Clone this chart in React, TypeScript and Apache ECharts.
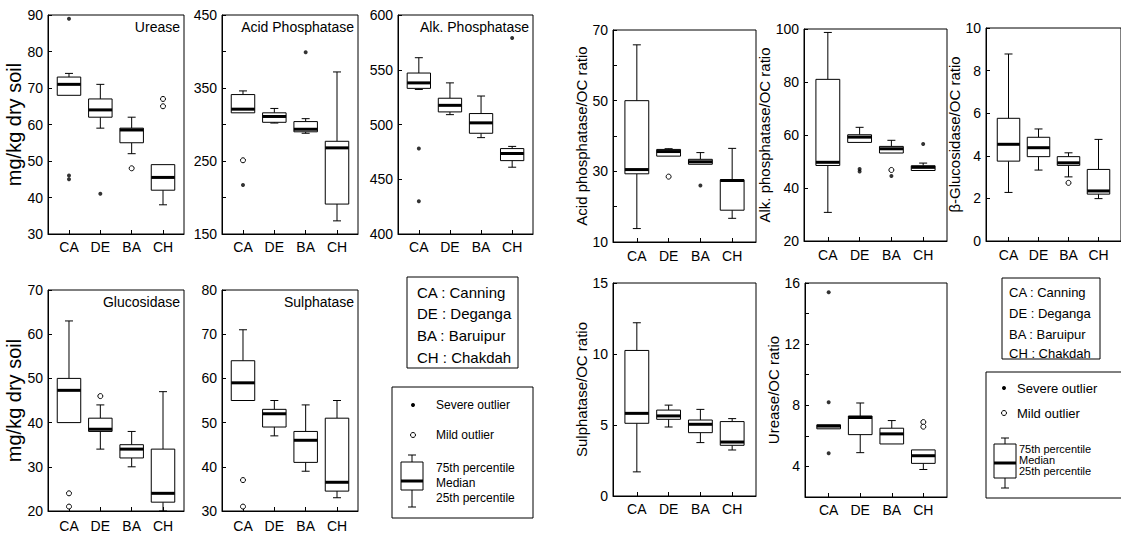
import React, { useEffect, useRef } from 'react';
import * as echarts from 'echarts';

const categories = ['CA', 'DE', 'BA', 'CH'];

// each row: [min whisker, 25th pct, median, 75th pct, max whisker] for CA, DE, BA, CH
const ureaseBox = [[68, 68, 71, 73, 74], [59, 62, 64, 67, 71], [52, 55, 58.5, 59, 62], [38, 42, 45.5, 49, 49]];
const ureaseSevere: [string, number][] = [['CA', 89], ['CA', 46], ['CA', 45], ['DE', 41]];
const ureaseMild: [string, number][] = [['BA', 48], ['CH', 67], ['CH', 65]];

const acidBox = [[316, 316, 321, 341, 346], [302, 303, 311, 316, 322], [288, 290, 293.5, 304, 308], [168, 191, 268, 277, 372]];
const acidSevere: [string, number][] = [['CA', 217], ['BA', 399]];
const acidMild: [string, number][] = [['CA', 251]];

const alkBox = [[532, 533, 538, 547, 561], [509, 511.5, 517.5, 524, 538], [488, 492, 501.5, 510, 526], [461, 467, 473.5, 478, 480]];
const alkSevere: [string, number][] = [['CA', 478], ['CA', 430], ['CH', 579]];
const alkMild: [string, number][] = [];

const glucoBox = [[40, 40, 47.3, 50, 63], [34, 38, 38.5, 41, 44], [30, 32, 34, 35, 38], [20, 22, 24, 34, 47]];
const glucoSevere: [string, number][] = [];
const glucoMild: [string, number][] = [['CA', 24], ['CA', 21], ['DE', 46]];

const sulphBox = [[55, 55, 59, 64, 71], [47, 49, 52, 53, 55], [39, 41, 46, 48, 54], [33, 34.5, 36.5, 51, 55]];
const sulphSevere: [string, number][] = [];
const sulphMild: [string, number][] = [['CA', 37], ['CA', 31]];

const acidOcBox = [[13.8, 29.3, 30.5, 50, 65.8], [34.3, 34.3, 35.6, 36.2, 36.4], [32, 32, 32.7, 33.4, 35.3], [16.7, 19, 27.4, 27.6, 36.5]];
const acidOcSevere: [string, number][] = [['BA', 26]];
const acidOcMild: [string, number][] = [['DE', 28.5]];

const alkOcBox = [[30.8, 48.5, 49.7, 81, 98.7], [57.2, 57.2, 59.2, 60.1, 62.9], [53.2, 53.2, 54.8, 55.7, 58], [46.6, 46.6, 47.8, 48.4, 49.4]];
const alkOcSevere: [string, number][] = [['DE', 47.2], ['DE', 46.2], ['BA', 44.5], ['CH', 56.6]];
const alkOcMild: [string, number][] = [['BA', 46.8]];

const glucOcBox = [[2.28, 3.75, 4.54, 5.76, 8.78], [3.33, 3.96, 4.38, 4.87, 5.26], [3.01, 3.55, 3.67, 3.96, 4.14], [1.99, 2.2, 2.35, 3.36, 4.77]];
const glucOcSevere: [string, number][] = [];
const glucOcMild: [string, number][] = [['BA', 2.73]];

const sulphOcBox = [[1.7, 5.12, 5.82, 10.25, 12.2], [4.86, 5.4, 5.64, 6.05, 6.4], [3.76, 4.46, 5.05, 5.35, 6.1], [3.24, 3.57, 3.8, 5.24, 5.45]];
const sulphOcSevere: [string, number][] = [];
const sulphOcMild: [string, number][] = [];

const ureaseOcBox = [[6.46, 6.46, 6.64, 6.72, 6.72], [4.9, 6.08, 7.2, 7.3, 8.15], [5.47, 5.47, 6.13, 6.5, 7.0], [3.8, 4.2, 4.7, 5.08, 5.1]];
const ureaseOcSevere: [string, number][] = [['CA', 15.4], ['CA', 8.2], ['CA', 4.86]];
const ureaseOcMild: [string, number][] = [['CH', 6.9], ['CH', 6.6]];

const legendSites = ['CA : Canning', 'DE : Deganga', 'BA : Baruipur', 'CH : Chakdah'];
const legendMarks = ['Severe outlier', 'Mild outlier', '75th percentile', 'Median', '25th percentile'];

const FONT = 'Liberation Sans, Arial, Helvetica, sans-serif';
const BOX_W = 0.75;

function renderBox(params: any, api: any) {
  const x = api.value(0);
  const lo = api.coord([x, api.value(1)]);
  const q1 = api.coord([x, api.value(2)]);
  const md = api.coord([x, api.value(3)]);
  const q3 = api.coord([x, api.value(4)]);
  const hi = api.coord([x, api.value(5)]);
  const w = api.size([BOX_W, 0])[0];
  const cx = lo[0];
  const half = w / 2;
  const cap = 4;
  const ls = { stroke: '#000', lineWidth: 1 };
  const children: any[] = [];
  if (q3[1] - hi[1] > 0.5) {
    children.push({ type: 'line', shape: { x1: cx, y1: hi[1], x2: cx, y2: q3[1] }, style: ls });
    children.push({ type: 'line', shape: { x1: cx - cap, y1: hi[1], x2: cx + cap, y2: hi[1] }, style: ls });
  }
  if (lo[1] - q1[1] > 0.5) {
    children.push({ type: 'line', shape: { x1: cx, y1: q1[1], x2: cx, y2: lo[1] }, style: ls });
    children.push({ type: 'line', shape: { x1: cx - cap, y1: lo[1], x2: cx + cap, y2: lo[1] }, style: ls });
  }
  children.push({
    type: 'rect',
    shape: { x: cx - half, y: q3[1], width: w, height: Math.max(q1[1] - q3[1], 1) },
    style: { fill: '#fff', stroke: '#000', lineWidth: 1 },
  });
  children.push({ type: 'line', shape: { x1: cx - half, y1: md[1], x2: cx + half, y2: md[1] }, style: { stroke: '#000', lineWidth: 3 } });
  return { type: 'group', children };
}

type Panel = {
  box: number[][];
  severe: [string, number][];
  mild: [string, number][];
  grid: { left: number; top: number; width: number; height: number };
  xr: [number, number];
  y: { min: number; max: number; interval: number; labelStep: number };
  fs: number;
  xMargin: number;
  name?: string;
  nameGap?: number;
  nameSize?: number;
  title?: string;
};

const panels: Panel[] = [
  { box: ureaseBox, severe: ureaseSevere, mild: ureaseMild, grid: { left: 48, top: 15, width: 136, height: 219 }, xr: [0.33, 4.67], y: { min: 30, max: 90, interval: 10, labelStep: 10 }, fs: 14, xMargin: 6, name: 'mg/kg dry soil', nameGap: 20, nameSize: 20, title: 'Urease' },
  { box: acidBox, severe: acidSevere, mild: acidMild, grid: { left: 222, top: 15, width: 136, height: 219 }, xr: [0.33, 4.67], y: { min: 150, max: 450, interval: 50, labelStep: 100 }, fs: 14, xMargin: 6, title: 'Acid Phosphatase' },
  { box: alkBox, severe: alkSevere, mild: alkMild, grid: { left: 398, top: 15, width: 135, height: 219 }, xr: [0.33, 4.67], y: { min: 400, max: 600, interval: 50, labelStep: 50 }, fs: 14, xMargin: 6, title: 'Alk. Phosphatase' },
  { box: glucoBox, severe: glucoSevere, mild: glucoMild, grid: { left: 48, top: 290, width: 136, height: 221 }, xr: [0.33, 4.67], y: { min: 20, max: 70, interval: 10, labelStep: 10 }, fs: 14, xMargin: 8, name: 'mg/kg dry soil', nameGap: 20, nameSize: 20, title: 'Glucosidase' },
  { box: sulphBox, severe: sulphSevere, mild: sulphMild, grid: { left: 222, top: 290, width: 136, height: 221 }, xr: [0.33, 4.67], y: { min: 30, max: 80, interval: 10, labelStep: 10 }, fs: 14, xMargin: 8, title: 'Sulphatase' },
  { box: acidOcBox, severe: acidOcSevere, mild: acidOcMild, grid: { left: 613, top: 30, width: 143, height: 212 }, xr: [0.25, 4.75], y: { min: 10, max: 70, interval: 10, labelStep: 20 }, fs: 14, xMargin: 7, name: 'Acid phosphatase/OC ratio', nameGap: 20, nameSize: 15 },
  { box: alkOcBox, severe: alkOcSevere, mild: alkOcMild, grid: { left: 804, top: 29, width: 143, height: 212 }, xr: [0.25, 4.75], y: { min: 20, max: 100, interval: 20, labelStep: 20 }, fs: 14, xMargin: 7, name: 'Alk. phosphatase/OC ratio', nameGap: 21, nameSize: 15 },
  { box: glucOcBox, severe: glucOcSevere, mild: glucOcMild, grid: { left: 986, top: 28, width: 145, height: 213 }, xr: [0.25, 4.75], y: { min: 0, max: 10, interval: 2, labelStep: 2 }, fs: 14, xMargin: 7, name: 'β-Glucosidase/OC ratio', nameGap: 15, nameSize: 15 },
  { box: sulphOcBox, severe: sulphOcSevere, mild: sulphOcMild, grid: { left: 613, top: 283, width: 143, height: 213 }, xr: [0.25, 4.75], y: { min: 0, max: 15, interval: 5, labelStep: 5 }, fs: 14, xMargin: 6, name: 'Sulphatase/OC ratio', nameGap: 19, nameSize: 15 },
  { box: ureaseOcBox, severe: ureaseOcSevere, mild: ureaseOcMild, grid: { left: 805, top: 283, width: 142, height: 214 }, xr: [0.25, 4.75], y: { min: 2, max: 16, interval: 2, labelStep: 4 }, fs: 14, xMargin: 6, name: 'Urease/OC ratio', nameGap: 16, nameSize: 15 },
];

function catIdx(c: string) {
  return categories.indexOf(c) + 1;
}

function buildOption() {
  const grid: any[] = [];
  const xAxis: any[] = [];
  const yAxis: any[] = [];
  const series: any[] = [];
  const graphic: any[] = [];

  panels.forEach((p, k) => {
    grid.push({ ...p.grid, show: true, borderColor: '#000', borderWidth: 1, backgroundColor: 'transparent' });
    xAxis.push({
      type: 'value',
      gridIndex: k,
      min: p.xr[0],
      max: p.xr[1],
      splitLine: { show: false },
      axisLine: { show: true, lineStyle: { color: '#000' } },
      axisTick: { show: true, inside: true, length: 4, customValues: [1, 2, 3, 4], lineStyle: { color: '#000' } },
      axisLabel: {
        customValues: [1, 2, 3, 4],
        formatter: (v: number) => categories[Math.round(v) - 1] ?? '',
        color: '#000',
        fontFamily: FONT,
        fontSize: p.fs,
        margin: p.xMargin,
      },
    });
    const step = p.y.labelStep;
    const ymin = p.y.min;
    yAxis.push({
      type: 'value',
      gridIndex: k,
      min: p.y.min,
      max: p.y.max,
      interval: p.y.interval,
      splitLine: { show: false },
      axisLine: { show: true, lineStyle: { color: '#000' } },
      axisTick: { show: true, inside: true, length: 4, lineStyle: { color: '#000' } },
      axisLabel: {
        color: '#000',
        fontFamily: FONT,
        fontSize: p.fs,
        margin: 5,
        formatter: (v: number) => {
          if (step === 4) return v % 4 === 0 ? String(v) : '';
          return Math.abs(((v - ymin) % step)) < 1e-6 ? String(v) : '';
        },
      },
      name: p.name,
      nameLocation: 'middle',
      nameGap: p.nameGap,
      nameTextStyle: { color: '#000', fontFamily: FONT, fontSize: p.nameSize },
    });
    series.push({
      type: 'custom',
      xAxisIndex: k,
      yAxisIndex: k,
      renderItem: renderBox,
      data: p.box.map((b, i) => [i + 1, ...b]),
      encode: { x: 0, y: [1, 2, 3, 4, 5] },
      clip: false,
      silent: true,
    });
    if (p.severe.length) {
      series.push({
        type: 'scatter',
        xAxisIndex: k,
        yAxisIndex: k,
        data: p.severe.map(([c, v]) => [catIdx(c), v]),
        symbol: 'circle',
        symbolSize: 4,
        itemStyle: { color: '#000' },
        silent: true,
        z: 5,
      });
    }
    if (p.mild.length) {
      series.push({
        type: 'scatter',
        xAxisIndex: k,
        yAxisIndex: k,
        data: p.mild.map(([c, v]) => [catIdx(c), v]),
        symbol: 'circle',
        symbolSize: 5,
        itemStyle: { color: '#fff', borderColor: '#000', borderWidth: 1, opacity: 1 },
        silent: true,
        z: 5,
      });
    }
    if (p.title) {
      graphic.push({
        type: 'text',
        x: p.grid.left + p.grid.width - 4,
        y: p.grid.top + 5,
        style: { text: p.title, fill: '#000', font: `14px ${FONT}`, textAlign: 'right', textVerticalAlign: 'top' },
      });
    }
  });

  // Left site legend
  graphic.push({ type: 'rect', shape: { x: 407, y: 277, width: 111, height: 91 }, style: { fill: '#fff', stroke: '#000', lineWidth: 1 } });
  [292, 313, 335, 357].forEach((yy, i) => {
    graphic.push({ type: 'text', x: 417, y: yy, style: { text: legendSites[i], fill: '#000', font: `15px ${FONT}`, textVerticalAlign: 'middle' } });
  });
  // Left marker legend
  graphic.push({ type: 'rect', shape: { x: 392, y: 387, width: 141, height: 131 }, style: { fill: '#fff', stroke: '#000', lineWidth: 1 } });
  graphic.push({ type: 'circle', shape: { cx: 413, cy: 405, r: 2 }, style: { fill: '#000' } });
  graphic.push({ type: 'circle', shape: { cx: 413, cy: 435, r: 2.5 }, style: { fill: '#fff', stroke: '#000', lineWidth: 1 } });
  graphic.push({ type: 'text', x: 436, y: 405, style: { text: legendMarks[0], fill: '#000', font: `12px ${FONT}`, textVerticalAlign: 'middle' } });
  graphic.push({ type: 'text', x: 436, y: 435, style: { text: legendMarks[1], fill: '#000', font: `12px ${FONT}`, textVerticalAlign: 'middle' } });
  graphic.push({ type: 'line', shape: { x1: 412, y1: 455, x2: 412, y2: 507 }, style: { stroke: '#000', lineWidth: 1 } });
  graphic.push({ type: 'line', shape: { x1: 408, y1: 455, x2: 416, y2: 455 }, style: { stroke: '#000', lineWidth: 1 } });
  graphic.push({ type: 'line', shape: { x1: 408, y1: 507, x2: 416, y2: 507 }, style: { stroke: '#000', lineWidth: 1 } });
  graphic.push({ type: 'rect', shape: { x: 401, y: 462, width: 22, height: 28 }, style: { fill: '#fff', stroke: '#000', lineWidth: 1 } });
  graphic.push({ type: 'line', shape: { x1: 401, y1: 481, x2: 423, y2: 481 }, style: { stroke: '#000', lineWidth: 3 } });
  [468, 483, 498].forEach((yy, i) => {
    graphic.push({ type: 'text', x: 436, y: yy, style: { text: legendMarks[2 + i], fill: '#000', font: `12px ${FONT}`, textVerticalAlign: 'middle' } });
  });

  // Right site legend
  graphic.push({ type: 'rect', shape: { x: 1002, y: 278, width: 98, height: 81 }, style: { fill: '#fff', stroke: '#000', lineWidth: 1 } });
  [292, 313, 334, 353].forEach((yy, i) => {
    graphic.push({ type: 'text', x: 1009, y: yy, style: { text: legendSites[i], fill: '#000', font: `13px ${FONT}`, textVerticalAlign: 'middle' } });
  });
  // Right marker legend
  graphic.push({ type: 'rect', shape: { x: 986, y: 372, width: 140, height: 126 }, style: { fill: '#fff', stroke: '#000', lineWidth: 1 } });
  graphic.push({ type: 'circle', shape: { cx: 1004, cy: 388, r: 2 }, style: { fill: '#000' } });
  graphic.push({ type: 'circle', shape: { cx: 1004, cy: 413, r: 2.5 }, style: { fill: '#fff', stroke: '#000', lineWidth: 1 } });
  graphic.push({ type: 'text', x: 1017, y: 388, style: { text: legendMarks[0], fill: '#000', font: `13px ${FONT}`, textVerticalAlign: 'middle' } });
  graphic.push({ type: 'text', x: 1017, y: 413, style: { text: legendMarks[1], fill: '#000', font: `13px ${FONT}`, textVerticalAlign: 'middle' } });
  graphic.push({ type: 'line', shape: { x1: 1005, y1: 438, x2: 1005, y2: 488 }, style: { stroke: '#000', lineWidth: 1 } });
  graphic.push({ type: 'line', shape: { x1: 1001, y1: 438, x2: 1009, y2: 438 }, style: { stroke: '#000', lineWidth: 1 } });
  graphic.push({ type: 'line', shape: { x1: 1001, y1: 488, x2: 1009, y2: 488 }, style: { stroke: '#000', lineWidth: 1 } });
  graphic.push({ type: 'rect', shape: { x: 994, y: 444, width: 22, height: 34 }, style: { fill: '#fff', stroke: '#000', lineWidth: 1 } });
  graphic.push({ type: 'line', shape: { x1: 994, y1: 463, x2: 1016, y2: 463 }, style: { stroke: '#000', lineWidth: 3 } });
  [449, 460, 471].forEach((yy, i) => {
    graphic.push({ type: 'text', x: 1019, y: yy, style: { text: legendMarks[2 + i], fill: '#000', font: `11px ${FONT}`, textVerticalAlign: 'middle' } });
  });

  return {
    animation: false,
    backgroundColor: '#fff',
    grid,
    xAxis,
    yAxis,
    series,
    graphic: { elements: graphic },
  };
}

export default function App() {
  const ref = useRef<HTMLDivElement>(null);
  useEffect(() => {
    if (!ref.current) return;
    const chart = echarts.init(ref.current, undefined, { renderer: 'svg' });
    chart.setOption(buildOption() as any);
    return () => chart.dispose();
  }, []);
  return <div ref={ref} style={{ position: 'absolute', left: 0, top: 0, width: 1121, height: 535 }} />;
}
